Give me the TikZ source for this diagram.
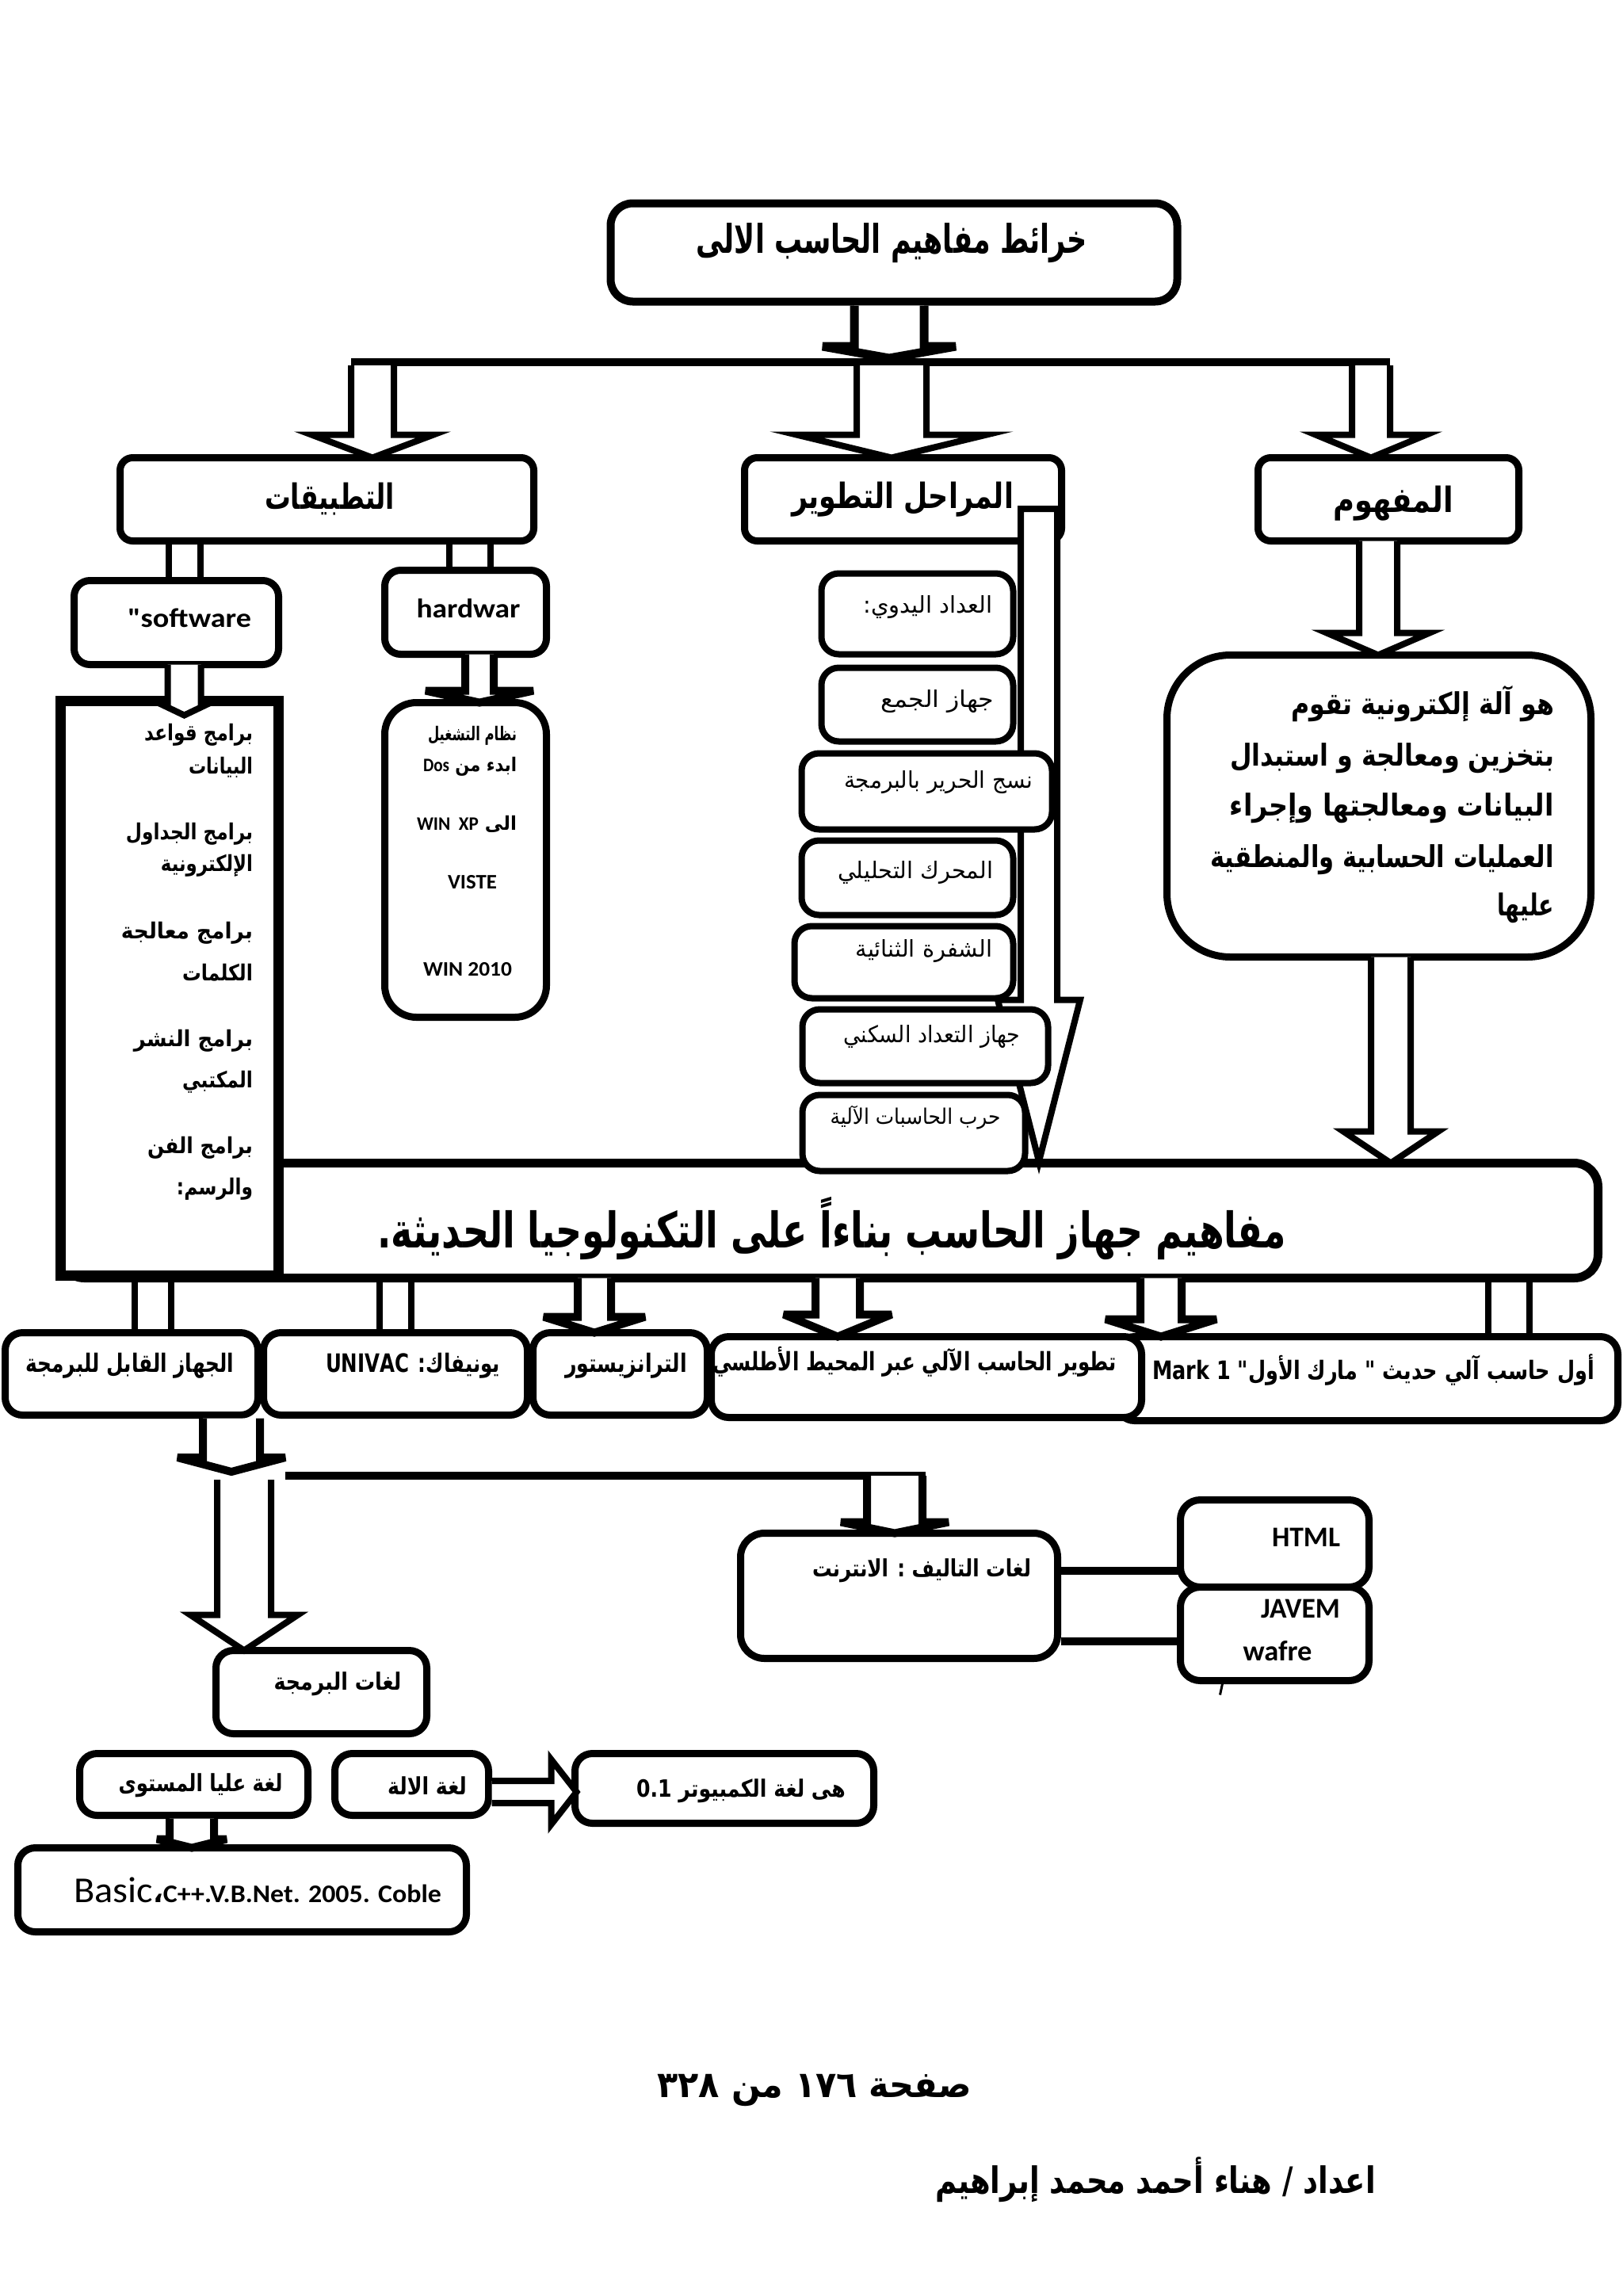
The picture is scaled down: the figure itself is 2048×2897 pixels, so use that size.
\documentclass[tikz,border=0pt]{standalone}
\usepackage{graphicx}
\usepackage{fontspec}
\usetikzlibrary{calc}
\TeXXeTstate=1
\newfontfamily\arf[Script=Arabic]{DejaVu Sans}
\newfontfamily\lat{Carlito}
\newcommand\LR[1]{\beginL #1\endL{}}
\newcommand\fs[1]{\fontsize{#1}{#1}\selectfont}
\newcommand\fitw[2]{\resizebox{#1pt}{\height}{#2}}
\newcommand\arb[2]{{\arf\bfseries\fs{#1}#2}}
\newcommand\arr[2]{{\arf\fs{#1}#2}}
\newcommand\latb[2]{{\lat\bfseries\fs{#1}#2}}
\newcommand\tnode[6][]{\node[tx,#1] (#2) at (#3,#4) {\fitw{#5}{#6}};}
\newcommand\mkbox[6][]{%
  \pgfmathsetmacro\bw{#5-#3-9}\pgfmathsetmacro\bh{#6-#4-9}%
  \node[bx,minimum width=\bw pt,minimum height=\bh pt,#1] (#2) at ({(#3+#5)/2},{(#4+#6)/2}) {};}
% #2 start (x and top y), #3 end (tip y), #4 shaft half width, #5 head half width, #6 head length
\newcommand\DArrow[6][]{%
  \path[arw,#1] let \p1=#2, \p2=#3 in
   (\x1-#4,\y1) -- (\x1-#4,\y2+#6) -- (\x1-#5,\y2+#6) -- (\x1,\y2) --
   (\x1+#5,\y2+#6) -- (\x1+#4,\y2+#6) -- (\x1+#4,\y1);}
\newcommand\DArrowC[6][]{%
  \path[arw,#1] let \p1=#2, \p2=#3 in
   (\x1-#4,\y1) -- (\x1-#4,\y2+#6) -- (\x1-#5,\y2+#6) -- (\x1,\y2) --
   (\x1+#5,\y2+#6) -- (\x1+#4,\y2+#6) -- (\x1+#4,\y1) -- cycle;}
\newcommand\RArrow[6][]{%
  \path[arw,#1] let \p1=#2, \p2=#3 in
   (\x1,\y1+#4) -- (\x2-#6,\y1+#4) -- (\x2-#6,\y1+#5) -- (\x2,\y1) --
   (\x2-#6,\y1-#5) -- (\x2-#6,\y1-#4) -- (\x1,\y1-#4);}
\newcommand\DShaft[4][]{%
  \draw[shaftln,#1] let \p1=#2, \p2=#3 in
   (\x1-#4,\y1) -- (\x1-#4,\y2) (\x1+#4,\y1) -- (\x1+#4,\y2);}
\begin{document}
\begin{tikzpicture}[x=1pt,y=-1pt,
  bx/.style={draw,fill=white,line width=9pt,rounded corners=20pt,inner sep=0pt,outer sep=0pt},
  arw/.style={draw,fill=white,line width=8pt,line join=miter},
  flathead/.style={line width=10pt,miter limit=1.6},
  shaftln/.style={line width=8pt},
  barln/.style={line width=10pt},
  tx/.style={inner sep=0pt,outer sep=0pt}]
\fill[white] (0,0) rectangle (2048,2897);
\useasboundingbox (0,0) rectangle (2048,2897);

% ---------- top level ----------
\coordinate (barL) at (443,457);
\coordinate (barR) at (1754,457);
\draw[barln] (barL) -- (barR);
\mkbox[rounded corners=28pt,line width=10pt]{title}{766}{252}{1490}{385}
\coordinate (j0) at (1122,452);
\DArrow[flathead,line width=11pt]{($(title.south)+(-6,5)$)}{(j0)}{44pt}{84pt}{15pt}

\mkbox[rounded corners=16pt]{app}{147}{573}{678}{687}
\mkbox[rounded corners=16pt]{stages}{935}{573}{1344}{687}
\mkbox[rounded corners=16pt]{concept}{1583}{573}{1921}{687}
\coordinate (jL) at (470,461);
\coordinate (jM) at (1125,461);
\coordinate (jR) at (1730,461);
\DArrow{(jL)}{(app.north)}{27pt}{77pt}{29pt}
\DArrow{(jM)}{(stages.north)}{44pt}{120pt}{29pt}
\DArrow{(jR)}{(concept.north)}{24pt}{70pt}{29pt}

% ---------- applications column ----------
\mkbox{soft}{89}{728}{356}{843}
\mkbox{hard}{481}{715}{694}{830}
\DShaft{($(app.south)+(-179.5,0)$)}{(soft.north)}{20pt}
\DShaft{($(app.south)+(180.5,0)$)}{(hard.north)}{26pt}
\mkbox[rounded corners=40pt]{os}{481}{882}{694}{1288}
\DArrow[flathead]{($(hard.south)+(17.5,0)$)}{(os.north)}{18pt}{68pt}{15pt}

% ---------- banner and software list ----------
\mkbox[rounded corners=30pt,line width=11pt]{banner}{72}{1463}{2021}{1617}
\mkbox[sharp corners,line width=13pt]{list}{72}{880}{356}{1614}
\DArrow{($(soft.south)+(10,0)$)}{($(list.north)+(0,18)$)}{21pt}{23pt}{11pt}

% ---------- concept ----------
\mkbox[rounded corners=80pt]{def}{1468}{822}{2012}{1212}
\DArrow{($(concept.south)+(-13,0)$)}{(def.north)}{24pt}{65pt}{28pt}
\DArrow{($(def.south)+(15,0)$)}{(banner.north)}{25pt}{60pt}{40pt}

% ---------- stages column ----------
\DArrowC{($(stages.south)+(171.5,-40.5)$)}{($(banner.north)+(0,-2)$)}{23pt}{52pt}{204pt}
\mkbox[rounded corners=22pt,line width=8pt]{m1}{1032}{719}{1283}{830}
\mkbox[rounded corners=22pt,line width=8pt]{m2}{1032}{838}{1283}{940}
\mkbox[rounded corners=22pt,line width=8pt]{m3}{1007}{946}{1332}{1051}
\mkbox[rounded corners=22pt,line width=8pt]{m4}{1007}{1056}{1283}{1159}
\mkbox[rounded corners=22pt,line width=8pt]{m5}{998}{1164}{1283}{1264}
\mkbox[rounded corners=22pt,line width=8pt]{m6}{1008}{1269}{1327}{1371}
\mkbox[rounded corners=22pt,line width=8pt]{m7}{1008}{1377}{1298}{1482}

% ---------- bottom row ----------
\mkbox[rounded corners=22pt]{A}{2}{1677}{330}{1790}
\mkbox[rounded corners=22pt]{B}{328}{1677}{670}{1790}
\mkbox[rounded corners=22pt]{C}{668}{1677}{897}{1790}
\mkbox[rounded corners=22pt]{E}{1405}{1682}{2046}{1797}
\mkbox[rounded corners=22pt]{D}{893}{1682}{1445}{1793}
\DShaft{($(list.south)+(-21,0)$)}{(A.north)}{23pt}
\DShaft{(B.north |- banner.south)}{(B.north)}{20pt}
\DArrow[flathead]{($(C.north |- banner.south)+(-32.5,0)$)}{(C.north)}{21pt}{64pt}{20pt}
\DArrow[flathead]{($(D.north |- banner.south)+(-112,0)$)}{(D.north)}{28pt}{68pt}{28pt}
\DArrow[flathead]{($(E.north |- banner.south)+(-260.5,0)$)}{(E.north)}{26pt}{70pt}{22pt}
\DShaft{($(E.north |- banner.south)+(178.5,0)$)}{(E.north)}{26pt}

% ---------- lower part ----------
\mkbox[rounded corners=30pt]{net}{930}{1930}{1339}{2097}
\mkbox[rounded corners=25pt]{html}{1485}{1888}{1732}{2007}
\mkbox[rounded corners=25pt]{jav}{1485}{1998}{1732}{2125}
\mkbox[rounded corners=22pt]{prog}{268}{2078}{543}{2192}
\mkbox[rounded corners=22pt]{high}{96}{2208}{393}{2295}
\mkbox[rounded corners=22pt]{mach}{418}{2208}{621}{2295}
\mkbox[rounded corners=22pt]{comp}{721}{2208}{1107}{2305}
\mkbox[rounded corners=22pt]{basic}{18}{2327}{593}{2442}

\coordinate (hub) at (292,1862);
\coordinate (nettop) at (1129,1862);
\DArrow[flathead]{($(A.south)+(126,4)$)}{($(hub)+(0,-5)$)}{36pt}{68pt}{18pt}
\draw[barln] ($(hub)+(68,0)$) -- ($(nettop)+(39,0)$);
\DArrow[flathead]{(nettop)}{(net.north)}{35pt}{68pt}{14pt}
\DArrow{($(hub)+(16,5)$)}{(prog.north)}{34pt}{68pt}{45pt}
\coordinate (n1) at ($(net.east)+(4,-31.5)$);
\coordinate (n2) at ($(net.east)+(4,57.5)$);
\draw[barln] (n1) -- (n1 -| html.west);
\draw[barln] (n2) -- (n2 -| jav.west);
\draw[line width=3pt] ($(jav.south)+(-66,4)$) -- ++(-3,14);
\RArrow{($(mach.east)+(4,9.5)$)}{($(comp.west)+(2,0)$)}{14pt}{41pt}{32pt}
\DArrow[flathead]{($(high.south)+(-2.5,4)$)}{(basic.north)}{28pt}{44pt}{11pt}

% ---------- texts ----------
\tnode{ttitle}{1125}{307}{493}{\arb{50}{\beginR خرائط مفاهيم الحاسب الالى\endR}}
\tnode{tapp}{416}{630}{164}{\arb{44}{\beginR التطبيقات\endR}}
\tnode{tstg}{1139}{630}{280}{\arb{44}{\beginR المراحل التطوير\endR}}
\tnode{tcon}{1758}{635}{152}{\arb{44}{\beginR المفهوم\endR}}
\tnode{tsoft}{239}{780}{156}{\latb{34}{"software}}
\tnode{thard}{591}{768}{131}{\latb{34}{hardwar}}

\tnode[anchor=east]{l1}{319}{927}{137}{\arb{28}{\beginR برامج قواعد\endR}}
\tnode[anchor=east]{l2}{319}{968}{81}{\arb{28}{\beginR البيانات\endR}}
\tnode[anchor=east]{l3}{319}{1052}{160}{\arb{28}{\beginR برامج الجداول\endR}}
\tnode[anchor=east]{l4}{319}{1092}{116}{\arb{28}{\beginR الإلكترونية\endR}}
\tnode[anchor=east]{l5}{319}{1177}{166}{\arb{28}{\beginR برامج معالجة\endR}}
\tnode[anchor=east]{l6}{319}{1227}{89}{\arb{28}{\beginR الكلمات\endR}}
\tnode[anchor=east]{l7}{319}{1313}{150}{\arb{28}{\beginR برامج النشر\endR}}
\tnode[anchor=east]{l8}{319}{1365}{89}{\arb{28}{\beginR المكتبي\endR}}
\tnode[anchor=east]{l9}{319}{1448}{133}{\arb{28}{\beginR برامج الفن\endR}}
\tnode[anchor=east]{l10}{319}{1500}{96}{\arb{28}{\beginR والرسم:\endR}}

\tnode[anchor=east]{o1}{652}{928}{112}{\arb{24}{\beginR نظام التشغيل\endR}}
\tnode[anchor=east]{o2}{652}{967}{118}{\arb{24}{\beginR ابدء من \LR{{\lat Dos}}\endR}}
\tnode[anchor=east]{o3}{652}{1040}{126}{\arb{24}{\beginR الى \LR{{\lat WIN~~XP}}\endR}}
\tnode{o4}{596}{1113}{62}{\latb{26}{VISTE}}
\tnode{o5}{590}{1223}{112}{\latb{26}{WIN 2010}}

\tnode[anchor=east]{d1}{1961}{888}{332}{\arb{38}{\beginR هو آلة إلكترونية تقوم\endR}}
\tnode[anchor=east]{d2}{1961}{957}{409}{\arb{38}{\beginR بتخزين ومعالجة و استبدال\endR}}
\tnode[anchor=east]{d3}{1961}{1020}{409}{\arb{38}{\beginR البيانات ومعالجتها وإجراء\endR}}
\tnode[anchor=east]{d4}{1961}{1085}{434}{\arb{38}{\beginR العمليات الحسابية والمنطقية\endR}}
\tnode[anchor=east]{d5}{1961}{1146}{72}{\arb{38}{\beginR عليها\endR}}

\tnode{tban}{1050}{1550}{1147}{\arb{62}{\beginR مفاهيم جهاز الحاسب بناءاً على التكنولوجيا الحديثة.\endR}}

\tnode{m1t}{1171}{766}{163}{\arr{29}{\beginR العداد اليدوي:\endR}}
\tnode{m2t}{1183}{885}{143}{\arr{29}{\beginR جهاز الجمع\endR}}
\tnode{m3t}{1184}{987}{238}{\arr{29}{\beginR نسج الحرير بالبرمجة\endR}}
\tnode{m4t}{1155}{1101}{196}{\arr{29}{\beginR المحرك التحليلي\endR}}
\tnode{m5t}{1166}{1200}{173}{\arr{29}{\beginR الشفرة الثنائية\endR}}
\tnode{m6t}{1176}{1308}{223}{\arr{29}{\beginR جهاز التعداد السكني\endR}}
\tnode{m7t}{1155}{1410}{215}{\arr{27}{\beginR حرب الحاسبات الآلية\endR}}

\tnode{bAt}{164}{1723}{263}{\arb{32}{\beginR الجهاز القابل للبرمجة\endR}}
\tnode{bBt}{521}{1723}{220}{\arb{32}{\beginR يونيفاك: \LR{UNIVAC}\endR}}
\tnode{bCt}{790}{1723}{154}{\arb{32}{\beginR الترانزيستور\endR}}
\tnode[anchor=east]{bDt}{1409}{1718}{510}{\arb{32}{\beginR تطوير الحاسب الآلي عبر المحيط الأطلسي\endR}}
\tnode{bEt}{1733}{1728}{558}{\arb{32}{\beginR أول حاسب آلي حديث " مارك الأول" \LR{Mark 1}\endR}}

\tnode[anchor=east]{tnet}{1301}{1982}{276}{\arb{30}{\beginR لغات التاليف : الانترنت\endR}}
\tnode[anchor=east]{thtml}{1691}{1940}{86}{\latb{36}{HTML}}
\tnode[anchor=east]{tjav}{1691}{2030}{100}{\latb{36}{JAVEM}}
\tnode{twaf}{1612}{2083}{87}{\latb{36}{wafre}}
\tnode{tprog}{426}{2125}{161}{\arb{30}{\beginR لغات البرمجة\endR}}
\tnode{thigh}{253}{2253}{207}{\arb{30}{\beginR لغة عليا المستوى\endR}}
\tnode{tmach}{539}{2253}{100}{\arb{30}{\beginR لغة الالة\endR}}
\tnode{tcomp}{935}{2260}{264}{\arb{30}{\beginR هى لغة الكمبيوتر \LR{0.1}\endR}}
\node[tx,anchor=west] (tbasic) at (93,2385) {\fitw{100}{{\lat\fs{46}Basic}}\fitw{364}{{\lat\bfseries\fs{32}{\arf ،}C++.V.B.Net. 2005. Coble}}};

\tnode{f1}{1028}{2637}{397}{\arb{46}{\beginR صفحة \LR{١٧٦} من \LR{٣٢٨}\endR}}
\tnode{f2}{1458}{2750}{556}{\arb{46}{\beginR اعداد / هناء أحمد محمد إبراهيم\endR}}
\end{tikzpicture}
\end{document}
